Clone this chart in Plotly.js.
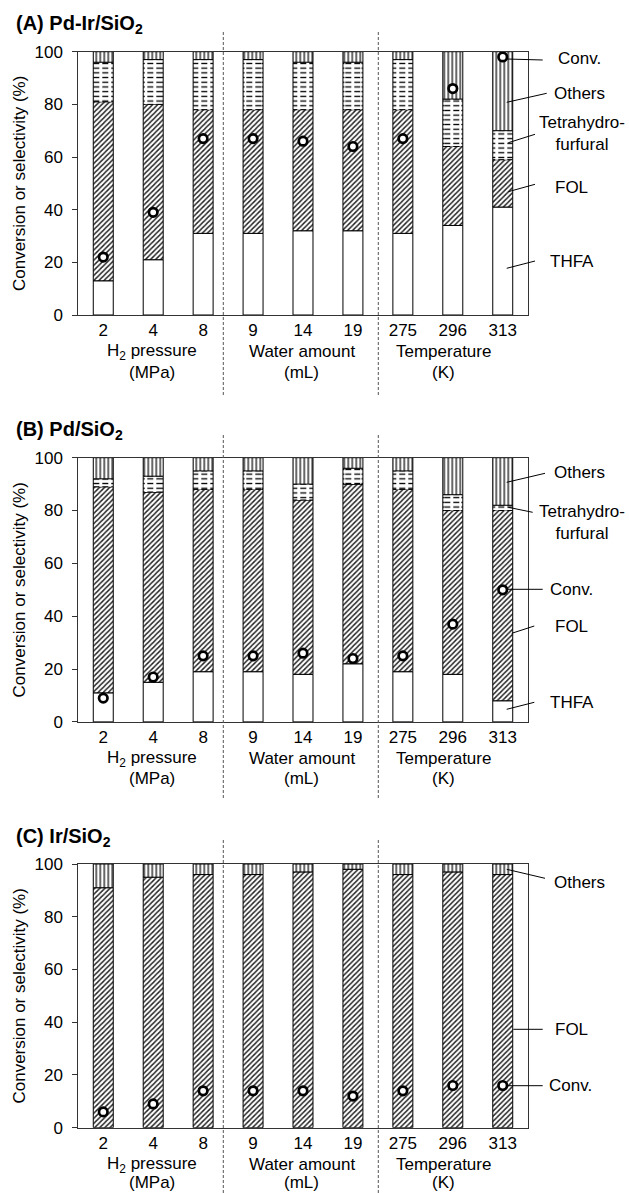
<!DOCTYPE html>
<html>
<head>
<meta charset="utf-8">
<script src="https://cdn.plot.ly/plotly-3.0.1.min.js"></script>
<style>html,body{margin:0;padding:0;background:#fff;}#chart{width:629px;height:1193px;}</style>
</head>
<body>
<div id="chart"></div>
<script>
// ---------- data ----------
const categories = ['2','4','8','9','14','19','275','296','313'];
const groupTitles = [['H<sub>2</sub> pressure', '(MPa)'], ['Water amount', '(mL)'], ['Temperature', '(K)']];
const panelTitles = ['<b>(A) Pd-Ir/SiO<sub>2</sub></b>', '<b>(B) Pd/SiO<sub>2</sub></b>', '<b>(C) Ir/SiO<sub>2</sub></b>'];
const yTicks = [0, 20, 40, 60, 80, 100];

// Panel A: Pd-Ir/SiO2 (selectivity %, conversion %)
const thfaA   = [13, 21, 31, 31, 32, 32, 31, 34, 41];
const folA    = [68, 59, 47, 47, 46, 46, 47, 30, 18];
const thfA    = [15, 17, 19, 19, 18, 18, 19, 18, 11];
const othersA = [4, 3, 3, 3, 4, 4, 3, 18, 30];
const convA   = [22, 39, 67, 67, 66, 64, 67, 86, 98];

// Panel B: Pd/SiO2
const thfaB   = [11, 15, 19, 19, 18, 22, 19, 18, 8];
const folB    = [78, 72, 69, 69, 66, 68, 69, 62, 72];
const thfB    = [3, 6, 7, 7, 6, 6, 7, 6, 2];
const othersB = [8, 7, 5, 5, 10, 4, 5, 14, 18];
const convB   = [9, 17, 25, 25, 26, 24, 25, 37, 50];

// Panel C: Ir/SiO2
const thfaC   = [0, 0, 0, 0, 0, 0, 0, 0, 0];
const folC    = [91, 95, 96, 96, 97, 98, 96, 97, 96];
const thfC    = [0, 0, 0, 0, 0, 0, 0, 0, 0];
const othersC = [9, 5, 4, 4, 3, 2, 4, 3, 4];
const convC   = [6, 9, 14, 14, 14, 12, 14, 16, 16];

// ---------- layout helpers ----------
const W = 629, H = 1193;
const px = x => x / W;
const py = y => 1 - y / H;
const FONT = 'Arial, "Liberation Sans", Helvetica, sans-serif';
const FS = 17;
const xDom = [px(78.3), px(527.7)];
const panelsPx = [[51.7, 315], [457.7, 721.9], [864, 1127.7]];

const panels = [
  {thfa: thfaA, fol: folA, thf: thfA, others: othersA, conv: convA},
  {thfa: thfaB, fol: folB, thf: thfB, others: othersB, conv: convB},
  {thfa: thfaC, fol: folC, thf: thfC, others: othersC, conv: convC}
];

const BARW = 0.4;
const outline = {color: '#000', width: 1};
const traces = [];
const layout = {
  width: W, height: H,
  margin: {l: 0, r: 0, t: 0, b: 0},
  paper_bgcolor: '#fff', plot_bgcolor: 'rgba(0,0,0,0)',
  showlegend: false,
  barmode: 'overlay',
  font: {family: FONT, size: FS, color: '#000'},
  shapes: [], annotations: []
};

function sumArr(a, b) { return a.map((v, i) => v + b[i]); }
const anyPos = a => a.some(v => v > 0);

panels.forEach((p, k) => {
  const n = k === 0 ? '' : String(k + 1);
  const xa = 'x' + n, ya = 'y' + n;
  const base0 = p.thfa.map(() => 0);
  const base1 = sumArr(base0, p.thfa);
  const base2 = sumArr(base1, p.fol);
  const base3 = sumArr(base2, p.thf);
  const common = {type: 'bar', x: categories, xaxis: xa, yaxis: ya, width: BARW, hoverinfo: 'skip'};
  if (anyPos(p.thfa)) traces.push(Object.assign({}, common, {
    name: 'THFA', y: p.thfa, base: base0,
    marker: {color: '#fff', line: outline}
  }));
  traces.push(Object.assign({}, common, {
    name: 'FOL', y: p.fol, base: base1,
    marker: {color: '#fff', line: outline,
      pattern: {shape: '/', size: 3.6, solidity: 0.4, fgcolor: '#222', bgcolor: '#fff'}}
  }));
  if (anyPos(p.thf)) {
    traces.push(Object.assign({}, common, {
      name: 'Tetrahydrofurfural', y: p.thf, base: base2,
      marker: {color: '#fff', line: outline,
        pattern: {shape: '-', size: 4.7, solidity: 0.28, fgcolor: '#000', bgcolor: '#fff'}}
    }));
    // white vertical gaps that break the horizontal lines into dashes
    traces.push(Object.assign({}, common, {
      name: 'Tetrahydrofurfural', y: p.thf, base: base2, width: BARW * 0.85,
      marker: {color: 'rgba(0,0,0,0)', line: {width: 0},
        pattern: {shape: '|', size: 9, solidity: 0.33, fgcolor: '#fff', bgcolor: 'rgba(0,0,0,0)'}}
    }));
  }
  traces.push(Object.assign({}, common, {
    name: 'Others', y: p.others, base: base3,
    marker: {color: '#fff', line: outline,
      pattern: {shape: '|', size: 4, solidity: 0.3, fgcolor: '#000', bgcolor: '#fff'}}
  }));
  traces.push({
    type: 'scatter', mode: 'markers', name: 'Conv.', x: categories, y: p.conv,
    xaxis: xa, yaxis: ya, hoverinfo: 'skip',
    marker: {symbol: 'circle', size: 8.5, color: '#fff', line: {color: '#000', width: 2.7}}
  });

  const [top, bot] = panelsPx[k];
  layout['xaxis' + n] = {
    domain: xDom, anchor: ya, type: 'category', range: [-0.5, 8.5],
    showline: true, mirror: true, linecolor: '#333', linewidth: 1,
    ticks: '', showgrid: false, zeroline: false,
    tickfont: {size: FS, family: FONT, color: '#000'}
  };
  layout['yaxis' + n] = {
    domain: [py(bot), py(top)], anchor: xa, range: [0, 100],
    tickvals: yTicks, ticks: 'outside', ticklen: 5, tickcolor: '#333',
    ticklabelstandoff: 6,
    showline: true, mirror: true, linecolor: '#333', linewidth: 1,
    showgrid: false, zeroline: false,
    tickfont: {size: FS, family: FONT, color: '#000'},
    title: {text: 'Conversion or selectivity (%)', font: {size: FS, family: FONT, color: '#000'}, standoff: 4}
  };

  // panel title
  layout.annotations.push({
    xref: 'paper', yref: 'paper', x: px(14), y: py(top - 27), xanchor: 'left', yanchor: 'middle',
    text: panelTitles[k], showarrow: false, font: {size: 20, family: FONT, color: '#000'}
  });
  // group titles (two lines each)
  [151.7, 301.7, 443].forEach((cx, g) => {
    const line2 = Math.min(bot + 57, 1182);
    [[groupTitles[g][0], bot + 37], [groupTitles[g][1], line2]].forEach(([t, yy]) => {
      layout.annotations.push({
        xref: 'paper', yref: 'paper', x: px(cx), y: py(yy), xanchor: 'center', yanchor: 'middle',
        text: t, showarrow: false, borderpad: 0, font: {size: FS, family: FONT, color: '#000'}
      });
    });
  });
});

// dashed separators
const sepX = [223.3, 378.3];
const sepY = [[32, 395], [435, 798], [840, 1193]];
sepY.forEach(([y0, y1]) => sepX.forEach(x => layout.shapes.push({
  type: 'line', xref: 'paper', yref: 'paper', x0: px(x), x1: px(x), y0: py(y0), y1: py(y1),
  line: {color: '#555', width: 1, dash: '3px,2px'}
})));

// leader lines and labels [x0,y0,x1,y1, text, textX, textY, anchor]
const labels = [
  [506.7, 59, 542.7, 60, 'Conv.', 556, 58.3, 'left'],
  [506.7, 102.3, 546.7, 93.3, 'Others', 552.3, 93, 'left'],
  [508.3, 142.7, 535, 134.3, 'Tetrahydro-<br>furfural', 581.5, 133, 'center'],
  [508.3, 191.7, 535, 184.3, 'FOL', 552.7, 187, 'left'],
  [506.7, 268.3, 535, 261, 'THFA', 548.3, 261, 'left'],
  [506.7, 482.3, 545, 473.3, 'Others', 552.3, 472.7, 'left'],
  [508.3, 507.3, 532.7, 512.3, 'Tetrahydro-<br>furfural', 581.5, 522, 'center'],
  [507.3, 589.3, 542.7, 589.3, 'Conv.', 548.3, 589.3, 'left'],
  [511.7, 633.3, 534.3, 626, 'FOL', 552.7, 626, 'left'],
  [506.7, 709.3, 534.3, 702.3, 'THFA', 548.3, 702.3, 'left'],
  [506.7, 869.3, 545, 878.3, 'Others', 552.3, 882.7, 'left'],
  [513.3, 1029.3, 542.7, 1029.3, 'FOL', 552.7, 1029.3, 'left'],
  [507.3, 1085.7, 542.7, 1085.7, 'Conv.', 547.3, 1085.7, 'left']
];
labels.forEach(([x0, y0, x1, y1, t, tx, ty, anc]) => {
  layout.shapes.push({type: 'line', xref: 'paper', yref: 'paper',
    x0: px(x0), y0: py(y0), x1: px(x1), y1: py(y1), line: {color: '#000', width: 1}});
  layout.annotations.push({xref: 'paper', yref: 'paper', x: px(tx), y: py(ty),
    xanchor: anc, yanchor: 'middle', text: t, showarrow: false,
    font: {size: FS, family: FONT, color: '#000'}});
});

Plotly.newPlot('chart', traces, layout, {staticPlot: true, displayModeBar: false});
</script>
</body>
</html>
